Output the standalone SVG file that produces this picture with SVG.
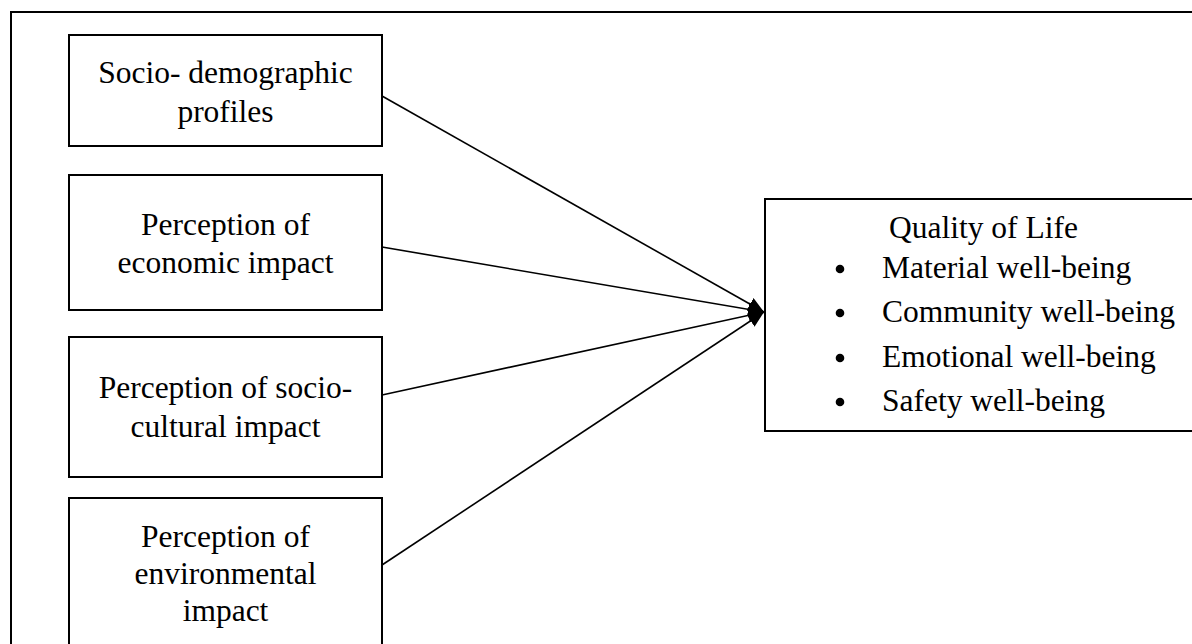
<svg xmlns="http://www.w3.org/2000/svg" width="1192" height="644" viewBox="0 0 1192 644">
<defs>
<style>
.box{fill:#fff;stroke:#000;stroke-width:2}
.frame{fill:none;stroke:#000;stroke-width:2}
.t{font-family:"Liberation Serif","Times New Roman",serif;font-size:31.5px;fill:#000}
.c{text-anchor:middle}
.con{stroke:#000;stroke-width:1.6;fill:none;marker-end:url(#ah)}
</style>
<marker id="ah" viewBox="0 0 16 14" markerWidth="16" markerHeight="14" refX="16" refY="7" orient="auto" markerUnits="userSpaceOnUse">
<path d="M0,0 L16,7 L0,14 z" fill="#000"/>
</marker>
</defs>
<rect width="1192" height="644" fill="#fff"/>
<rect class="frame" x="11" y="12" width="1200" height="700"/>
<g id="n1">
<rect class="box" x="69" y="35" width="313" height="111"/>
<text class="t c" x="225.5" y="83">Socio- demographic</text>
<text class="t c" x="225.5" y="122">profiles</text>
</g>
<g id="n2">
<rect class="box" x="69" y="175" width="313" height="135"/>
<text class="t c" x="225.5" y="235">Perception of</text>
<text class="t c" x="225.5" y="272.5">economic impact</text>
</g>
<g id="n3">
<rect class="box" x="69" y="337" width="313" height="140"/>
<text class="t c" x="225.5" y="398">Perception of socio-</text>
<text class="t c" x="225.5" y="436.5">cultural impact</text>
</g>
<g id="n4">
<rect class="box" x="69" y="498" width="313" height="170"/>
<text class="t c" x="225.5" y="546.5">Perception of</text>
<text class="t c" x="225.5" y="583.5">environmental</text>
<text class="t c" x="225.5" y="620.5">impact</text>
</g>
<g id="qol">
<rect class="box" x="765" y="199" width="440" height="232"/>
<text class="t" x="889" y="238">Quality of Life</text>
<circle cx="840" cy="269" r="4.3"/>
<text class="t" x="882" y="278">Material well-being</text>
<circle cx="840" cy="313" r="4.3"/>
<text class="t" x="882" y="322">Community well-being</text>
<circle cx="840" cy="358" r="4.3"/>
<text class="t" x="882" y="367">Emotional well-being</text>
<circle cx="840" cy="402" r="4.3"/>
<text class="t" x="882" y="411">Safety well-being</text>
</g>
<g id="connectors">
<line class="con" x1="382" y1="96" x2="764" y2="312"/>
<line class="con" x1="382" y1="247" x2="764" y2="312"/>
<line class="con" x1="382" y1="395" x2="764" y2="312"/>
<line class="con" x1="382" y1="565" x2="764" y2="312"/>
</g>
</svg>
